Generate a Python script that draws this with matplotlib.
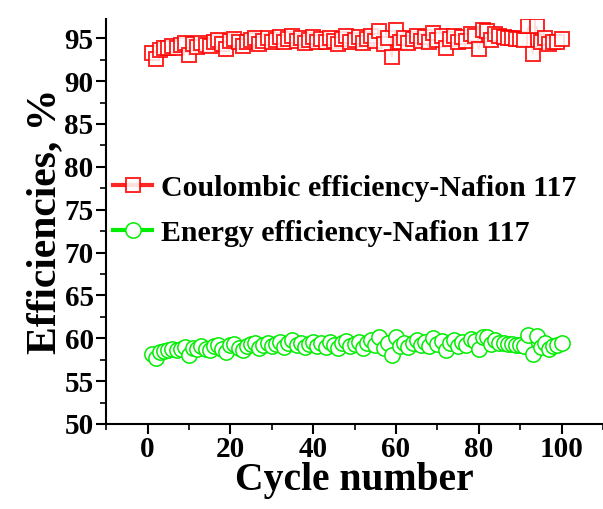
import matplotlib
matplotlib.use("Agg")
import matplotlib.pyplot as plt
import numpy as np

plt.rcParams['font.family'] = ['Liberation Serif', 'DejaVu Serif']
plt.rcParams['font.weight'] = 'bold'

cycles = np.arange(1, 101)

# Coulombic efficiency, %
ce = [93.3, 92.6, 93.6, 93.8, 93.9, 94.1, 93.8, 94.2, 94.4, 93.0,
      94.3, 94.0, 94.4, 94.2, 94.1, 94.6, 94.8, 94.3, 93.7, 94.7,
      94.9, 94.5, 94.1, 94.6, 94.8, 95.0, 94.3, 94.7, 95.0, 94.6,
      94.8, 95.1, 94.5, 94.9, 95.3, 94.7, 95.0, 94.4, 94.8, 95.1,
      94.6, 94.9, 94.5, 95.0, 94.7, 94.3, 94.9, 95.2, 94.6, 94.8,
      95.1, 94.4, 94.9, 95.3, 94.7, 95.8, 94.3, 95.0, 92.8, 95.9,
      94.6, 95.0, 94.4, 94.9, 95.3, 94.7, 95.1, 94.6, 95.6, 94.8,
      95.2, 93.8, 94.9, 95.3, 94.6, 95.1, 94.7, 95.5, 95.3, 93.7,
      96.0, 95.8, 94.8, 95.5, 95.2, 95.1, 95.0, 95.0, 94.9, 94.9,
      94.8, 96.4, 93.2, 96.4, 94.6, 95.0, 94.3, 94.6, 94.6, 94.9]

# Energy efficiency, %
ee = [58.2, 57.7, 58.4, 58.5, 58.6, 58.7, 58.6, 58.8, 59.0, 58.1,
      58.9, 58.7, 59.1, 58.8, 58.6, 59.1, 59.2, 58.8, 58.4, 59.2,
      59.3, 58.9, 58.6, 59.1, 59.3, 59.5, 58.9, 59.2, 59.5, 59.1,
      59.3, 59.6, 59.0, 59.4, 59.8, 59.2, 59.5, 59.0, 59.3, 59.6,
      59.1, 59.4, 59.0, 59.6, 59.2, 58.9, 59.4, 59.7, 59.1, 59.3,
      59.6, 58.9, 59.4, 59.8, 59.2, 60.1, 58.9, 59.5, 58.0, 60.2,
      59.1, 59.5, 59.0, 59.4, 59.8, 59.2, 59.6, 59.1, 60.0, 59.3,
      59.7, 58.6, 59.4, 59.8, 59.1, 59.6, 59.2, 59.9, 59.7, 58.7,
      60.2, 60.1, 59.3, 59.8, 59.5, 59.4, 59.3, 59.3, 59.2, 59.2,
      59.1, 60.4, 58.2, 60.3, 59.0, 59.4, 58.8, 59.1, 59.2, 59.4]

fig = plt.figure(figsize=(6.03, 5.09), dpi=100)
ax = fig.add_axes([0.176, 0.167, 0.824, 0.795])

ax.plot(cycles, ce, '-s', color='red', mfc='white', mec='red', ms=10,
        mew=1.4, lw=1.0, alpha=0.85, label='Coulombic efficiency-Nafion 117')
ax.plot(cycles, ee, '-o', color='#00ee00', mfc='white', mec='#00ee00', ms=11,
        mew=1.1, lw=1.0, label='Energy efficiency-Nafion 117')

ax.set_xlim(-10, 110)
ax.set_ylim(50, 97.2)
ax.set_xticks([0, 20, 40, 60, 80, 100])
ax.set_xticks(np.arange(-10, 111, 10), minor=True)
ax.set_yticks(np.arange(50, 96, 5))
ax.set_yticks(np.arange(50, 97, 2.5), minor=True)

for s in ['top', 'right']:
    ax.spines[s].set_visible(False)
for s in ['left', 'bottom']:
    ax.spines[s].set_linewidth(1.5)

ax.tick_params(axis='both', which='major', length=7, width=1.5, labelsize=21, pad=2)
ax.tick_params(axis='both', which='minor', length=4, width=1.2)

ax.set_xlabel('Cycle number', fontsize=28.5, fontweight='bold', labelpad=-1)
ax.set_ylabel('Efficiencies, %', fontsize=30, fontweight='bold', labelpad=0)

leg = ax.legend(loc='upper left', bbox_to_anchor=(-0.01, 0.645), frameon=False,
                fontsize=21.5, handlelength=1.3, handletextpad=0.3, labelspacing=0.6,
                borderaxespad=0)
for h in leg.legend_handles:
    h.set_linewidth(3)

fig.savefig('out.png', dpi=100)
